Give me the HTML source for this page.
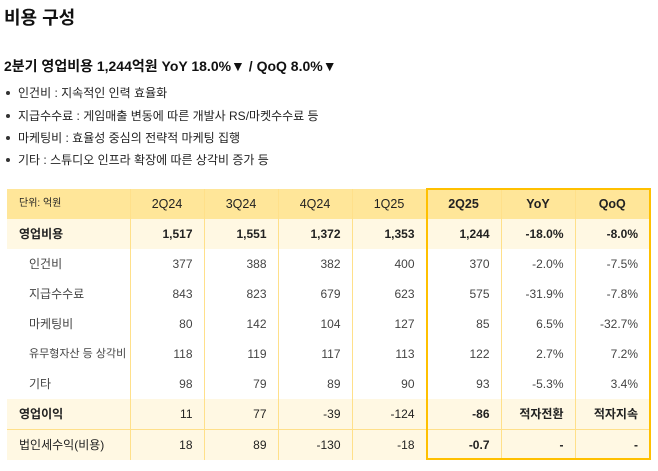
<!DOCTYPE html>
<html><head><meta charset="utf-8"><style>
body{margin:0;width:658px;height:471px;background:#fff;font-family:"Liberation Sans","Noto Sans CJK KR",sans-serif;color:#222;position:relative;overflow:hidden}
.t{position:absolute;white-space:nowrap}
table{position:absolute;left:7px;top:189px;width:642px;border-collapse:collapse;table-layout:fixed}
tr{height:30px}
td{height:30px;padding:0;font-size:12px;border-left:1px solid #FFE08A;text-align:right;padding-right:11px;box-sizing:border-box;color:#444;white-space:nowrap;overflow:hidden;line-height:30px}
td:first-child{border-left:none;text-align:left;padding-left:22px}
tr.h td{background:#FFE699;text-align:center;padding-right:0;font-size:12.5px;color:#222}
tr.h td:first-child{text-align:left;padding-left:12px;font-size:10px}
tr.b td{background:#FFF8E3;font-weight:bold;color:#222}
tr.b td:first-child{padding-left:12px}
tr.l td{border-top:1px solid #FFE08A}
.box{position:absolute;left:426px;top:188px;width:225px;height:272px;border:2px solid #FFC000;box-sizing:border-box}
.dot{display:inline-block;width:4px;height:4px;background:#333;border-radius:50%;margin:0 8px 2px 2px;vertical-align:middle}
</style></head><body>
<div class="t" style="left:4px;top:4px;font-size:18px;font-weight:bold;color:#111">비용 구성</div>
<div class="t" style="left:4px;top:56px;font-size:14px;font-weight:bold;color:#111">2분기 영업비용 1,244억원 YoY 18.0%▼ / QoQ 8.0%▼</div>
<div class="t" style="left:4px;top:84px;font-size:12px"><span class="dot"></span>인건비 : 지속적인 인력 효율화</div>
<div class="t" style="left:4px;top:107px;font-size:12px"><span class="dot"></span>지급수수료 : 게임매출 변동에 따른 개발사 RS/마켓수수료 등</div>
<div class="t" style="left:4px;top:129px;font-size:12px"><span class="dot"></span>마케팅비 : 효율성 중심의 전략적 마케팅 집행</div>
<div class="t" style="left:4px;top:151px;font-size:12px"><span class="dot"></span>기타 : 스튜디오 인프라 확장에 따른 상각비 증가 등</div>
<table>
<colgroup><col style="width:123px"><col style="width:74px"><col style="width:74px"><col style="width:74px"><col style="width:74px"><col style="width:75px"><col style="width:74px"><col style="width:74px"></colgroup>
<tr class="h"><td>단위: 억원</td><td>2Q24</td><td>3Q24</td><td>4Q24</td><td>1Q25</td><td><b>2Q25</b></td><td><b>YoY</b></td><td><b>QoQ</b></td></tr>
<tr class="b"><td>영업비용</td><td>1,517</td><td>1,551</td><td>1,372</td><td>1,353</td><td>1,244</td><td>-18.0%</td><td>-8.0%</td></tr>
<tr><td>인건비</td><td>377</td><td>388</td><td>382</td><td>400</td><td>370</td><td>-2.0%</td><td>-7.5%</td></tr>
<tr><td>지급수수료</td><td>843</td><td>823</td><td>679</td><td>623</td><td>575</td><td>-31.9%</td><td>-7.8%</td></tr>
<tr><td>마케팅비</td><td>80</td><td>142</td><td>104</td><td>127</td><td>85</td><td>6.5%</td><td>-32.7%</td></tr>
<tr><td style="font-size:11px">유무형자산 등 상각비</td><td>118</td><td>119</td><td>117</td><td>113</td><td>122</td><td>2.7%</td><td>7.2%</td></tr>
<tr><td>기타</td><td>98</td><td>79</td><td>89</td><td>90</td><td>93</td><td>-5.3%</td><td>3.4%</td></tr>
<tr class="b"><td>영업이익</td><td style="font-weight:normal">11</td><td style="font-weight:normal">77</td><td style="font-weight:normal">-39</td><td style="font-weight:normal">-124</td><td>-86</td><td>적자전환</td><td>적자지속</td></tr>
<tr class="b l"><td style="font-weight:normal">법인세수익(비용)</td><td style="font-weight:normal">18</td><td style="font-weight:normal">89</td><td style="font-weight:normal">-130</td><td style="font-weight:normal">-18</td><td>-0.7</td><td>-</td><td>-</td></tr>
</table>
<div class="box"></div>
</body></html>
